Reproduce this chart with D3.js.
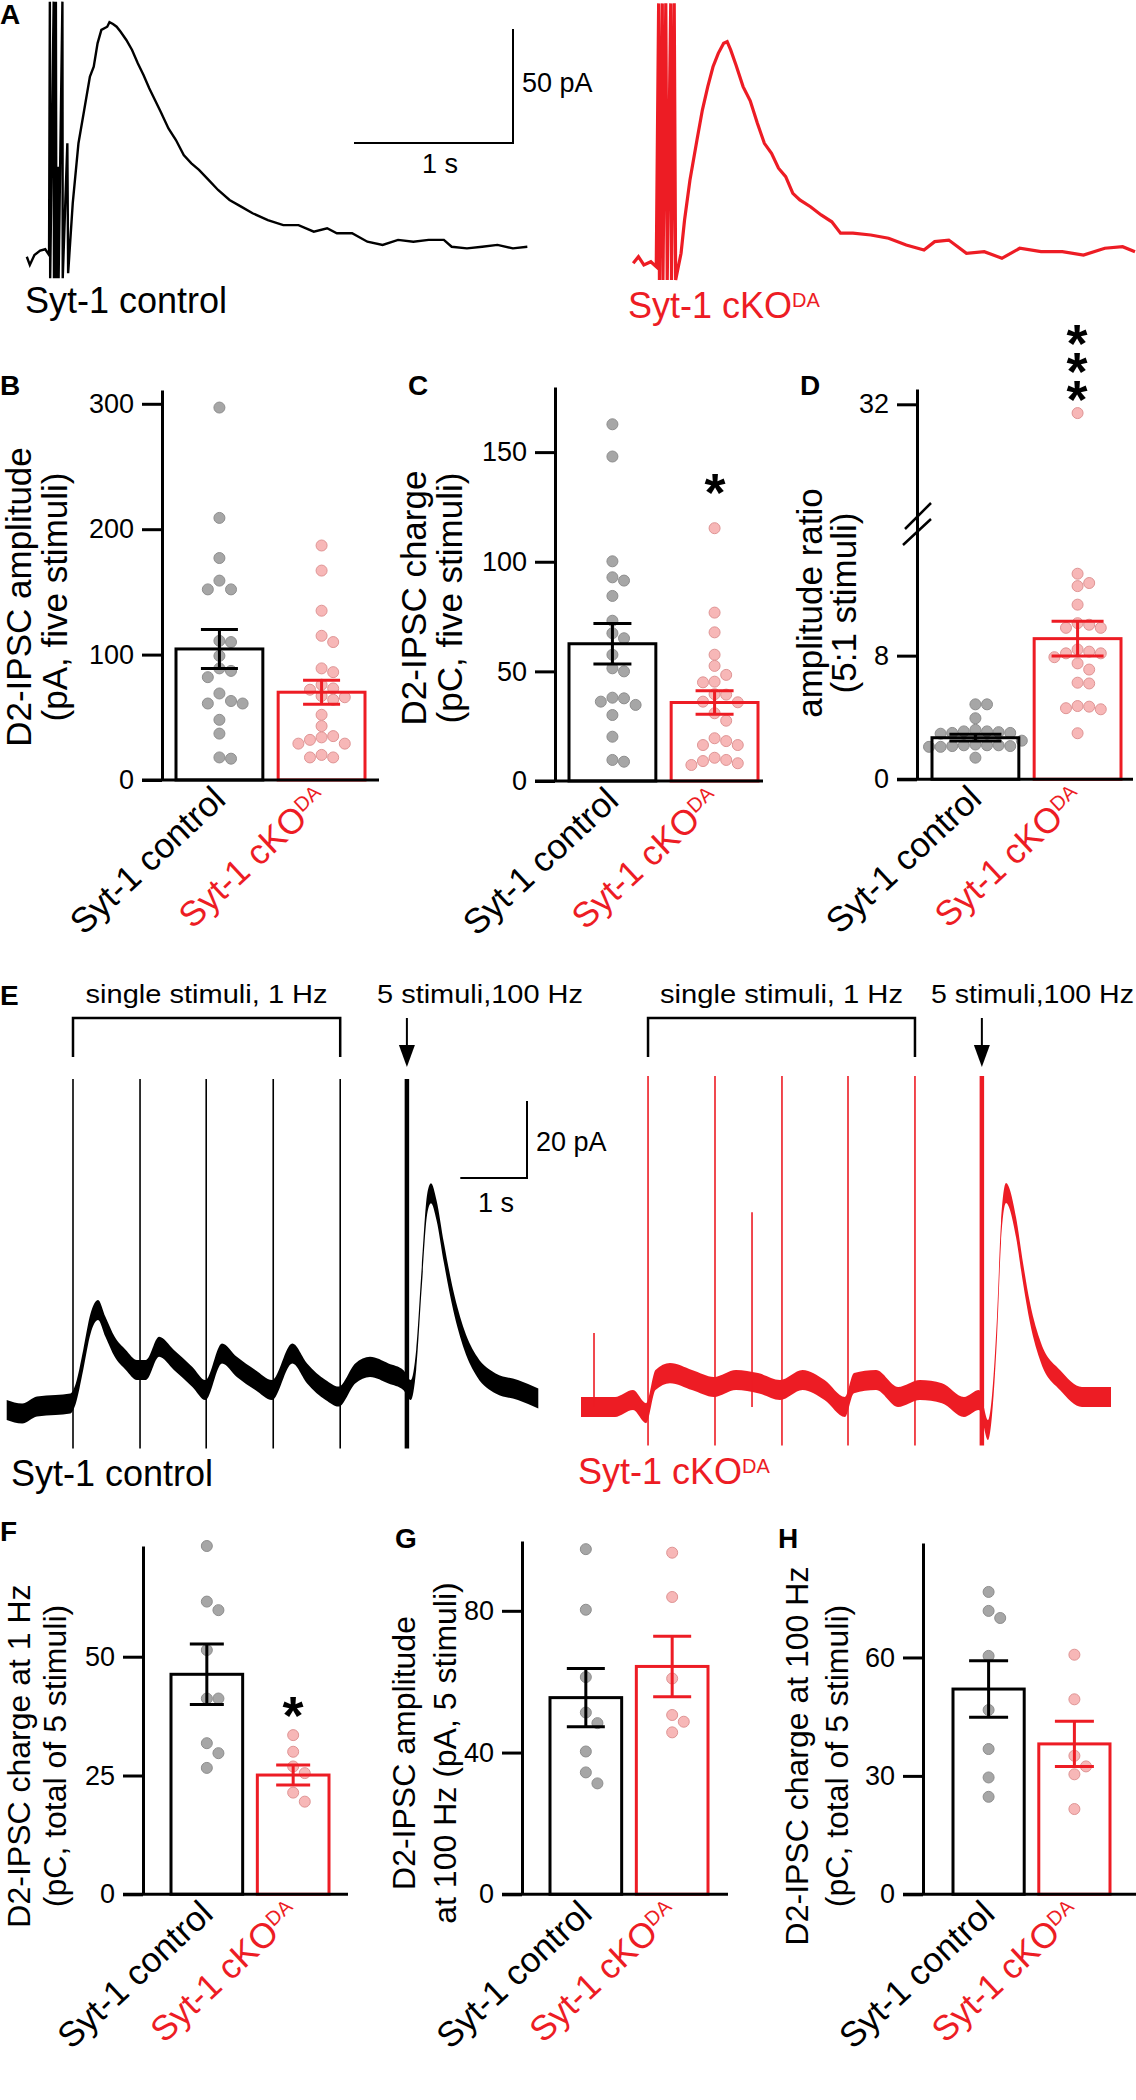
<!DOCTYPE html>
<html>
<head>
<meta charset="utf-8">
<script src="https://cdn.jsdelivr.net/npm/d3@7"></script>
<style>
  body { margin: 0; background: #fff; }
  svg text { font-family: "Liberation Sans", Arial, Helvetica, sans-serif; }
</style>
</head>
<body>
<div id="fig"></div>
<script>
// groups
var groups = ["Syt-1 control", "Syt-1 cKO"];

// ---- panel A: example traces, [time (s), current (pA)]
var traceA_ctrl = [[0,0.1],[0.019,-3.5],[0.048,0.9],[0.084,2.8],[0.116,3.4],[0.140,0.9],
  [0.145,112],[0.147,-9.3],[0.169,112],[0.171,-9.3],[0.183,112],[0.186,-9.3],[0.197,39.6],[0.200,-9.3],
  [0.224,112],[0.226,-9.3],[0.255,49.9],[0.260,-7.1],[0.289,23.6],[0.325,49.9],[0.361,64.5],[0.397,79.1],
  [0.421,83.5],[0.445,93.7],[0.469,99.6],[0.506,101],[0.520,103],[0.542,102.2],[0.565,101],[0.590,98.8],
  [0.626,95.2],[0.662,90.8],[0.698,85],[0.734,79.8],[0.770,74],[0.806,68.9],[0.842,63.7],[0.891,56.4],
  [0.938,51.3],[0.987,44.7],[1.035,41.1],[1.083,38.2],[1.143,33.8],[1.203,29.4],[1.275,25],[1.348,22.1],
  [1.420,19.2],[1.516,16.2],[1.613,14],[1.709,14],[1.805,11.1],[1.889,12.6],[1.950,10.4],[2.046,10.4],
  [2.142,6.7],[2.238,5.3],[2.335,7.5],[2.431,6.7],[2.527,7.5],[2.623,7.5],[2.672,4.5],[2.768,3.8],
  [2.864,4.5],[2.960,5.3],[3.057,3.8],[3.148,4.5]];
var traceA_cko = [[0,0],[0.033,2.9],[0.067,-0.7],[0.111,0.7],[0.145,-1.5],
  [0.160,114],[0.165,-7.3],[0.183,114],[0.187,-7.3],[0.205,114],[0.214,-7.3],[0.236,114],[0.241,-7.3],
  [0.258,114],[0.267,-7.3],[0.301,4.4],[0.323,19],[0.357,36.5],[0.401,54.1],[0.435,67.2],[0.469,77.5],
  [0.502,86.2],[0.535,92.1],[0.569,96.5],[0.591,97.2],[0.613,93.6],[0.647,86.9],[0.691,77.5],[0.736,71.3],
  [0.781,61.4],[0.825,52.6],[0.870,48.2],[0.914,41.7],[0.959,38],[1.004,30.7],[1.048,27.8],[1.115,24.8],
  [1.182,21.2],[1.249,18.2],[1.304,13.2],[1.382,13.2],[1.494,12.4],[1.606,11],[1.717,8],[1.829,5.8],
  [1.896,9.5],[1.985,10.2],[2.096,4.4],[2.208,5.1],[2.319,2.2],[2.431,6.6],[2.565,5.1],[2.699,5.1],
  [2.832,3.6],[2.966,6.6],[3.078,7.3],[3.156,5.1]];

// ---- panel E: 1 Hz then 100 Hz traces, [time (s), current (pA)]
var traceE_ctrl = [[0,0],[0.232,-0.9],[0.454,0.9],[0.732,1.3],[0.954,1.7],[1.036,4.3],[1.147,13],
  [1.258,22.5],[1.369,26],[1.48,21.6],[1.619,16.4],[1.786,13],[1.952,10.4],[2.09,10.4],[2.285,16.4],
  [2.507,13],[2.784,8.6],[2.978,5.2],[3.228,14.7],[3.45,11.2],[3.727,7.8],[3.978,5.2],[4.282,14.7],
  [4.504,9.5],[4.781,5.2],[4.975,3.5],[5.225,9.5],[5.447,11.2],[5.724,9.5],[5.946,7.8],[6.057,5.2],
  [6.139,13],[6.223,34.6],[6.306,53.7],[6.361,56.3],[6.444,51.9],[6.556,40.7],[6.694,28.6],[6.861,18.2],
  [7.054,11.2],[7.331,6.9],[7.664,5.2],[7.97,3]];
var traceE_cko = [[0,0],[0.51,0],[0.78,1.8],[0.975,-1.6],[1.117,7],[1.334,8.8],[1.664,7],[1.994,5.2],
  [2.324,7],[2.654,6.2],[2.984,4.4],[3.321,7],[3.651,4.4],[3.958,0],[4.093,6.2],[4.423,7],[4.753,2.6],
  [5.082,4.4],[5.412,3.6],[5.742,0],[5.967,1.8],[6.102,-6],[6.237,20.8],[6.297,45.2],[6.372,55.6],
  [6.522,46.7],[6.627,34.8],[6.732,24.4],[6.897,14],[7.181,7],[7.511,2.6],[7.946,2.6]];
var stimE_ctrl = [0.994, 1.999, 2.991, 3.996, 5.0];
var stimE_cko = [1.005, 2.009, 3.013, 4.003, 5.007];
var burstE_ctrl = 6.0;
var burstE_cko = 6.01;
var spikesE_cko = [[0.195, 19.2], [2.564, 50.6]];
var artifactE = [86, -10];   // stimulus artifact extent, pA
var noiseE = 2.6;            // recording noise, pA

// ---- B: D2-IPSC amplitude (pA, five stimuli)
var ampCtrl = [297,209,177,152,152,159,110,111,99,82,87,89,69,61,61,63,48,37,17,18];
var ampCko = [187,167,135,115,110,89,86,76,73,72,67,64,66,52,43,35,34,32,29,29,18,20,18];
var ampMean = [104.5, 70], ampSem = [15.5, 9.5];
// ---- C: D2-IPSC charge (pC, five stimuli)
var chgCtrl = [162.7,148,100.2,91.4,92.9,84.4,73.1,65.1,67.4,57.6,50,51.4,38,36.2,37.7,34.7,30.1,20.2,8.8,9.6];
var chgCko = [115.3,76.8,67.8,57.6,52.5,45,45.3,48.4,39.4,39.6,35.9,36.2,30.9,27.5,18.2,19.5,16.4,16.4,8.1,10.6,9.1,9.6,7.3];
var chgMean = [62.6, 35.8], chgSem = [9.2, 5.4];
// ---- D: amplitude ratio (5:1 stimuli)
var ratioCtrl = [4.85,4.85,3.95,3.2,3.1,3.1,3.05,3.0,3.0,2.95,2.5,2.2,2.2,2.15,2.1,2.1,2.2,2.25,2.15,1.4];
var ratioCko = [30.9,13.3,12.5,12.7,11.3,10.1,9.8,10.0,9.8,8.4,8.15,7.9,8.15,8.26,7.5,7.1,6.25,6.2,4.74,4.6,4.7,4.53,2.98];
var ratioMean = [2.69, 9.1], ratioSem = [0.22, 1.13];
// ---- F: charge at 1 Hz
var hz1Ctrl = [73.3,61.6,59.8,51.4,41.2,41.2,31.8,29.7,26.6];
var hz1Cko = [33.5,30,26.9,25.5,21.4,19.5];
var hz1Mean = [46.3, 25.1], hz1Sem = [6.35, 2.1];
// ---- G: amplitude at 100 Hz
var amp100Ctrl = [97.4,80.3,61.3,51.3,48.3,40.3,34.4,31.3];
var amp100Cko = [96.4,83.9,60.9,50.6,48.7,45.7];
var amp100Mean = [55.5, 64.3], amp100Sem = [8.25, 8.55];
// ---- H: charge at 100 Hz
var chg100Ctrl = [76.6,71.8,70,60.4,46.7,36.8,29.6,24.7];
var chg100Cko = [60.7,49.4,35.1,32.4,30.4,21.6];
var chg100Mean = [52, 38.1], chg100Sem = [7.15, 5.75];

var red = "#ed1c24";

var svg = d3.select("#fig").append("svg")
    .attr("width", 1136)
    .attr("height", 2100);

function letter(ch, x, y) {
  svg.append("text").attr("x", x).attr("y", y)
    .style("font-size", "28px").style("font-weight", "bold").text(ch);
}

function plainLabel(x, y, color, size) {
  return svg.append("text").attr("x", x).attr("y", y)
    .attr("fill", color).style("font-size", size + "px");
}

function groupLabel(t, i) {
  if (i == 0) { t.text(groups[0]); return; }
  t.append("tspan").text(groups[1]);
  t.append("tspan").attr("dy", -11).style("font-size", "20px").text("DA");
}

// significance stars: one text, stacked top to bottom
function stars(x, y, n) {
  var s = "";
  for (var i = 0; i < n; i++) s += "*";
  svg.append("text").attr("x", x).attr("y", y - 23)
    .style("writing-mode", "vertical-rl")
    .style("text-orientation", "upright")
    .style("letter-spacing", "-32px")
    .style("font-size", "54px").style("font-weight", "bold")
    .text(s);
}

// ================= A
letter("A", 0, 24);
var xA1 = d3.scaleLinear().domain([0, 1]).range([26.8, 185.8]);
var yA1 = d3.scaleLinear().domain([0, 50]).range([257, 143]);
var xA2 = d3.scaleLinear().domain([0, 1]).range([633.2, 792.2]);
var yA2 = d3.scaleLinear().domain([0, 50]).range([263.3, 149.3]);

svg.append("path").datum(traceA_ctrl)
  .attr("fill", "none").attr("stroke", "#000").attr("stroke-width", 2.4)
  .attr("d", d3.line().x(function(d) { return xA1(d[0]); }).y(function(d) { return yA1(d[1]); }));
svg.append("path").datum(traceA_cko)
  .attr("fill", "none").attr("stroke", red).attr("stroke-width", 3.2)
  .attr("d", d3.line().x(function(d) { return xA2(d[0]); }).y(function(d) { return yA2(d[1]); }));

// scale bar A
var sbx = 513, sby = 143;
svg.append("path")
  .attr("d", "M" + (sbx - (xA1(1) - xA1(0))) + "," + sby + "H" + sbx + "V" + (sby - (yA1(0) - yA1(50))))
  .attr("fill", "none").attr("stroke", "#000").attr("stroke-width", 2);
plainLabel(522, 92, "#000", 27).text("50 pA");
plainLabel(440, 173, "#000", 27).attr("text-anchor", "middle").text("1 s");

groupLabel(plainLabel(25, 313, "#000", 36), 0);
groupLabel(plainLabel(628, 318, red, 36), 1);

// ================= bar panels
function barPanel(o) {
  var y = d3.scaleLinear().domain(o.domain).range(o.range);
  var x = d3.scaleBand().domain(groups).range(o.bars).paddingInner(o.pad);
  var y0 = y(0);
  var g = svg.append("g");

  // dots (simple dodge)
  var r = 5.5;
  [o.ctrl, o.cko].forEach(function(vals, i) {
    var cx = x(groups[i]) + x.bandwidth() / 2;
    var placed = [];
    vals.slice().sort(function(a, b) { return b - a; }).forEach(function(v) {
      var py = y(v), px = cx;
      for (var k = 0; k < 30; k++) {
        var off = (k % 2 ? 1 : -1) * Math.ceil(k / 2) * (2 * r + 0.6);
        var ok = placed.every(function(p) {
          return Math.hypot(p[0] - (cx + off), p[1] - py) >= 2 * r;
        });
        if (ok) { px = cx + off; break; }
      }
      placed.push([px, py]);
    });
    g.selectAll(null).data(placed).enter().append("circle")
      .attr("cx", function(d) { return d[0]; })
      .attr("cy", function(d) { return d[1]; })
      .attr("r", r)
      .attr("fill", i ? "#f7b7b7" : "#a6a6a6")
      .attr("stroke", i ? "#df9494" : "#8e8e8e")
      .attr("stroke-width", 1);
  });

  // bars
  g.selectAll(null).data(o.mean).enter().append("rect")
    .attr("x", function(d, i) { return x(groups[i]); })
    .attr("y", function(d) { return y(d); })
    .attr("width", x.bandwidth())
    .attr("height", function(d) { return y0 - y(d); })
    .attr("fill", "none")
    .attr("stroke", function(d, i) { return i ? red : "#000"; })
    .attr("stroke-width", 3);

  // error bars
  o.mean.forEach(function(m, i) {
    var cx = x(groups[i]) + x.bandwidth() / 2, cw = o.cap / 2;
    var hi = y(m + o.sem[i]), lo = y(m - o.sem[i]);
    g.append("path")
      .attr("d", "M" + cx + "," + hi + "V" + lo + "M" + (cx - cw) + "," + hi + "H" + (cx + cw) +
                 "M" + (cx - cw) + "," + lo + "H" + (cx + cw))
      .attr("fill", "none").attr("stroke", i ? red : "#000").attr("stroke-width", 3);
  });

  // axes
  var ax = g.append("g").attr("transform", "translate(" + o.axisX + ",0)")
    .call(d3.axisLeft(y).tickValues(o.ticks).tickSize(20).tickSizeOuter(0).tickPadding(8));
  ax.selectAll("path,line").attr("stroke", "#000").attr("stroke-width", 3);
  ax.selectAll("text").attr("fill", "#000")
    .style("font-size", "27px").style("font-family", '"Liberation Sans", Arial, sans-serif');
  g.append("line")
    .attr("x1", o.axisX - 20).attr("x2", o.bars[1] + o.xEnd)
    .attr("y1", y0).attr("y2", y0)
    .attr("stroke", "#000").attr("stroke-width", 3);

  // axis titles
  o.title.forEach(function(t, i) {
    g.append("text")
      .attr("transform", "translate(" + o.titleX[i] + "," + o.titleY + ") rotate(-90)")
      .attr("text-anchor", "middle")
      .style("font-size", o.titleSize + "px")
      .text(t);
  });

  // group labels
  groups.forEach(function(name, i) {
    var t = g.append("text")
      .attr("transform", "translate(" + (x(name) + x.bandwidth() / 2 + 8) + "," + (y0 + 22) + ") rotate(-43)")
      .attr("text-anchor", "end")
      .attr("fill", i ? red : "#000")
      .style("font-size", "35px");
    groupLabel(t, i);
  });
  return { x: x, y: y };
}

// B
letter("B", 0, 395);
barPanel({ ctrl: ampCtrl, cko: ampCko, mean: ampMean, sem: ampSem,
  domain: [0, 311], range: [780, 390], ticks: [0, 100, 200, 300],
  bars: [176, 365], pad: 0.15, axisX: 162, xEnd: 14, cap: 37,
  title: ["D2-IPSC amplitude", "(pA, five stimuli)"], titleX: [31, 67], titleY: 597, titleSize: 35 });

// C
letter("C", 408, 395);
barPanel({ ctrl: chgCtrl, cko: chgCko, mean: chgMean, sem: chgSem,
  domain: [0, 179.7], range: [781, 387], ticks: [0, 50, 100, 150],
  bars: [569, 758], pad: 0.15, axisX: 555, xEnd: 5, cap: 38,
  title: ["D2-IPSC charge", "(pC, five stimuli)"], titleX: [426, 462], titleY: 598, titleSize: 35 });
stars(715, 485, 1);

// D (broken axis)
letter("D", 800, 395);
barPanel({ ctrl: ratioCtrl, cko: ratioCko, mean: ratioMean, sem: ratioSem,
  domain: [0, 16, 32, 33.9], range: [779.3, 532, 404.3, 389], ticks: [0, 8, 32],
  bars: [932, 1121], pad: 0.15, axisX: 917, xEnd: 12, cap: 52,
  title: ["amplitude ratio", "(5:1 stimuli)"], titleX: [822, 856], titleY: 603, titleSize: 35 });
svg.append("path")
  .attr("d", "M905,529L931,503M903,545L931,519")
  .attr("stroke", "#000").attr("stroke-width", 2.5);
stars(1077, 336, 3);

// ================= E
letter("E", 0, 1005);
var xE1 = d3.scaleLinear().domain([0, 1]).range([6.7, 73.4]);
var yE1 = d3.scaleLinear().domain([0, 20]).range([1410, 1333]);
var xE2 = d3.scaleLinear().domain([0, 1]).range([581, 647.7]);
var yE2 = d3.scaleLinear().domain([0, 20]).range([1407, 1330]);

function eTrace(data, stim, burst, xs, ys, color) {
  stim.forEach(function(t) {
    svg.append("line").attr("x1", xs(t)).attr("x2", xs(t))
      .attr("y1", ys(artifactE[0])).attr("y2", ys(artifactE[1]))
      .attr("stroke", color).attr("stroke-width", 1.6);
  });
  svg.append("line").attr("x1", xs(burst)).attr("x2", xs(burst))
    .attr("y1", ys(artifactE[0])).attr("y2", ys(artifactE[1]))
    .attr("stroke", color).attr("stroke-width", 4.5);
  svg.append("path").datum(data)
    .attr("fill", color)
    .attr("d", d3.area().curve(d3.curveMonotoneX)
      .x(function(d) { return xs(d[0]); })
      .y0(function(d) { return ys(d[1] - noiseE); })
      .y1(function(d) { return ys(d[1] + noiseE); }));
  // bracket + arrow
  var bx0 = xs(stim[0]), bx1 = xs(stim[stim.length - 1]), ax = xs(burst);
  svg.append("path").attr("d", "M" + bx0 + ",1057V1018H" + bx1 + "V1057")
    .attr("fill", "none").attr("stroke", "#000").attr("stroke-width", 2.5);
  svg.append("line").attr("x1", ax).attr("x2", ax).attr("y1", 1018).attr("y2", 1050)
    .attr("stroke", "#000").attr("stroke-width", 2);
  svg.append("path").attr("d", "M" + (ax - 8) + ",1045L" + (ax + 8) + ",1045L" + ax + ",1067Z")
    .attr("fill", "#000");
  return { bx: (bx0 + bx1) / 2 };
}

var e1 = eTrace(traceE_ctrl, stimE_ctrl, burstE_ctrl, xE1, yE1, "#000");
var e2 = eTrace(traceE_cko, stimE_cko, burstE_cko, xE2, yE2, red);
spikesE_cko.forEach(function(s) {
  svg.append("line").attr("x1", xE2(s[0])).attr("x2", xE2(s[0]))
    .attr("y1", yE2(0)).attr("y2", yE2(s[1]))
    .attr("stroke", red).attr("stroke-width", 1.6);
});

plainLabel(e1.bx, 1003, "#000", 26).attr("text-anchor", "middle")
  .attr("textLength", 242).attr("lengthAdjust", "spacingAndGlyphs").text("single stimuli, 1 Hz");
plainLabel(377, 1003, "#000", 26)
  .attr("textLength", 206).attr("lengthAdjust", "spacingAndGlyphs").text("5 stimuli,100 Hz");
plainLabel(e2.bx, 1003, "#000", 26).attr("text-anchor", "middle")
  .attr("textLength", 243).attr("lengthAdjust", "spacingAndGlyphs").text("single stimuli, 1 Hz");
plainLabel(931, 1003, "#000", 26)
  .attr("textLength", 203).attr("lengthAdjust", "spacingAndGlyphs").text("5 stimuli,100 Hz");

// scale bar E
var ex = 527, ey = 1178;
svg.append("path")
  .attr("d", "M" + (ex - (xE1(1) - xE1(0))) + "," + ey + "H" + ex + "V" + (ey - (yE1(0) - yE1(20))))
  .attr("fill", "none").attr("stroke", "#000").attr("stroke-width", 2);
plainLabel(536, 1151, "#000", 27).text("20 pA");
plainLabel(496, 1212, "#000", 27).attr("text-anchor", "middle").text("1 s");

groupLabel(plainLabel(11, 1486, "#000", 36), 0);
groupLabel(plainLabel(578, 1484, red, 36), 1);

// ================= F, G, H
letter("F", 0, 1541);
barPanel({ ctrl: hz1Ctrl, cko: hz1Cko, mean: hz1Mean, sem: hz1Sem,
  domain: [0, 73.3], range: [1894.3, 1546], ticks: [0, 25, 50],
  bars: [171, 329], pad: 0.17, axisX: 143, xEnd: 19, cap: 34,
  title: ["D2-IPSC charge at 1 Hz", "(pC, total of 5 stimuli)"], titleX: [30, 66], titleY: 1756, titleSize: 32 });
stars(293, 1708, 1);

letter("G", 395, 1548);
barPanel({ ctrl: amp100Ctrl, cko: amp100Cko, mean: amp100Mean, sem: amp100Sem,
  domain: [0, 99.7], range: [1894.3, 1541], ticks: [0, 40, 80],
  bars: [550, 708], pad: 0.17, axisX: 522, xEnd: 20, cap: 38,
  title: ["D2-IPSC amplitude", "at 100 Hz (pA, 5 stimuli)"], titleX: [415, 456], titleY: 1753, titleSize: 32 });

letter("H", 778, 1548);
barPanel({ ctrl: chg100Ctrl, cko: chg100Cko, mean: chg100Mean, sem: chg100Sem,
  domain: [0, 89], range: [1894.3, 1543], ticks: [0, 30, 60],
  bars: [953, 1110], pad: 0.17, axisX: 923, xEnd: 26, cap: 39,
  title: ["D2-IPSC charge at 100 Hz", "(pC, total of 5 stimuli)"], titleX: [808, 848], titleY: 1756, titleSize: 32 });
</script>
</body>
</html>
